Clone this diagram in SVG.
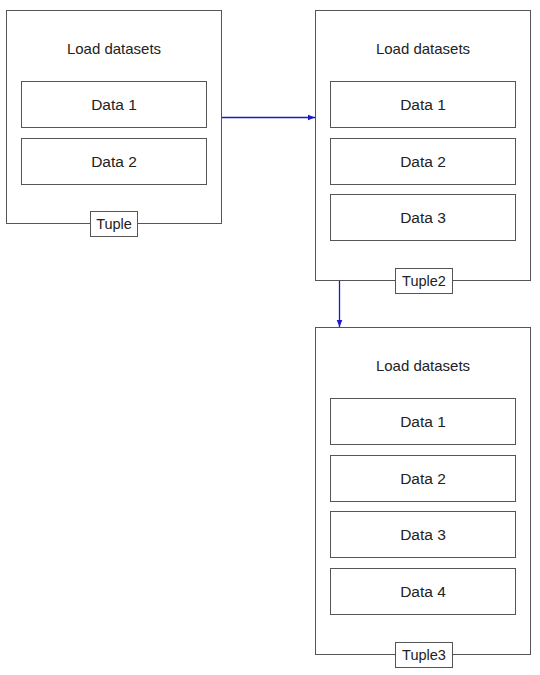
<svg xmlns="http://www.w3.org/2000/svg" width="540" height="675" viewBox="0 0 540 675">
<style>
.outer{fill:#fff;stroke:#555;stroke-width:1}
.inner{fill:#fff;stroke:#555;stroke-width:1}
.lbl{fill:#fff;stroke:#555;stroke-width:1}
text{font-family:"Liberation Sans","DejaVu Sans",sans-serif;fill:#222;text-anchor:middle}
.t{font-size:15px}
.d{font-size:15.5px}
.k{font-size:14.5px}
.edge{stroke:#1a1acc;stroke-width:1.3;fill:none}
</style>
<defs>
<marker id="ah" viewBox="0 0 10 10" refX="10" refY="5" markerWidth="7" markerHeight="7" orient="auto" markerUnits="userSpaceOnUse">
<path d="M0,1 L10,5 L0,9 Z" fill="#1a1acc"/>
</marker>
</defs>
<rect width="540" height="675" fill="#fff"/>
<g id="tuple1">
<rect class="outer" x="6.5" y="10.5" width="215" height="213"/>
<text class="t" x="114" y="54">Load datasets</text>
<rect class="inner" x="21.5" y="81.5" width="185" height="46"/>
<text class="d" x="114" y="110">Data 1</text>
<rect class="inner" x="21.5" y="138.5" width="185" height="46"/>
<text class="d" x="114" y="167">Data 2</text>
<rect class="lbl" x="90.5" y="211.5" width="47" height="25"/>
<text class="k" x="114" y="229">Tuple</text>
</g>
<g id="tuple2">
<rect class="outer" x="315.5" y="10.5" width="215" height="270"/>
<text class="t" x="423" y="54">Load datasets</text>
<rect class="inner" x="330.5" y="81.5" width="185" height="46"/>
<text class="d" x="423" y="110">Data 1</text>
<rect class="inner" x="330.5" y="138.5" width="185" height="46"/>
<text class="d" x="423" y="167">Data 2</text>
<rect class="inner" x="330.5" y="194.5" width="185" height="46"/>
<text class="d" x="423" y="223">Data 3</text>
<rect class="lbl" x="395.5" y="268.5" width="57" height="25"/>
<text class="k" x="424" y="286">Tuple2</text>
</g>
<g id="tuple3">
<rect class="outer" x="315.5" y="327.5" width="215" height="327"/>
<text class="t" x="423" y="371">Load datasets</text>
<rect class="inner" x="330.5" y="398.5" width="185" height="46"/>
<text class="d" x="423" y="427">Data 1</text>
<rect class="inner" x="330.5" y="455.5" width="185" height="46"/>
<text class="d" x="423" y="484">Data 2</text>
<rect class="inner" x="330.5" y="511.5" width="185" height="46"/>
<text class="d" x="423" y="540">Data 3</text>
<rect class="inner" x="330.5" y="568.5" width="185" height="46"/>
<text class="d" x="423" y="597">Data 4</text>
<rect class="lbl" x="395.5" y="642.5" width="57" height="25"/>
<text class="k" x="424" y="660">Tuple3</text>
</g>
<g id="connectors">
<line class="edge" x1="222" y1="117.5" x2="315" y2="117.5" marker-end="url(#ah)"/>
<line class="edge" x1="339.5" y1="281" x2="339.5" y2="327" marker-end="url(#ah)"/>
</g>
</svg>
